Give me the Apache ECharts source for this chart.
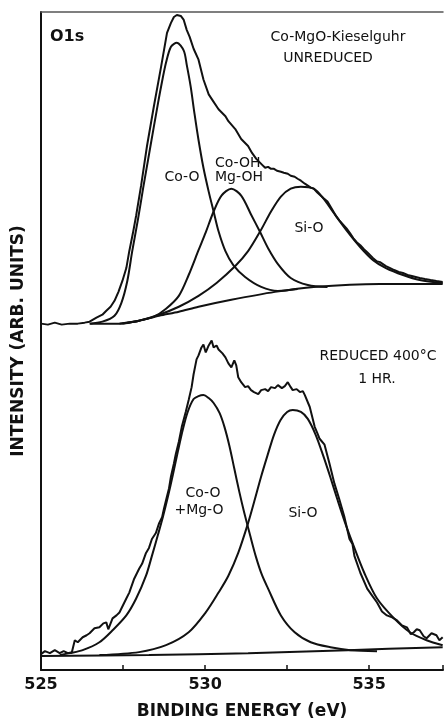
<!DOCTYPE html>
<html>
<head>
<meta charset="utf-8">
<script src="https://cdn.jsdelivr.net/npm/echarts@6/dist/echarts.min.js"></script>
<style>
html,body{margin:0;padding:0;background:#fff;}
#chart{width:446px;height:725px;}
</style>
</head>
<body>
<div id="chart"></div>
<script>
// O1s XPS spectra, Co-MgO-Kieselguhr (arb. units)
// upper spectrum: unreduced
var upperEnvelope = [[525.00,349],[525.21,348],[525.42,350],[525.63,348],[525.88,349],[526.12,349],[526.33,350],[526.48,351],[526.69,355],[526.87,358],[526.99,362],[527.12,366],[527.24,372],[527.36,381],[527.48,392],[527.60,405],[527.69,422],[527.80,440],[527.90,458],[528.05,488],[528.23,528],[528.44,568],[528.66,608],[528.84,642],[528.96,652],[529.05,658],[529.14,660],[529.20,662],[529.26,659],[529.35,655],[529.44,645],[529.53,638],[529.65,626],[529.80,615],[529.95,595],[530.11,580],[530.23,574],[530.41,565],[530.62,558],[530.71,553],[530.92,545],[531.10,535],[531.31,528],[531.43,521],[531.56,515],[531.65,512],[531.74,509],[531.83,506],[531.92,507],[532.01,505],[532.10,505],[532.19,503],[532.31,502],[532.40,501],[532.52,500],[532.61,498],[532.73,497],[532.82,495],[532.92,493],[533.04,490],[533.13,488],[533.22,486],[533.31,485],[533.42,481],[533.52,478],[533.62,475],[533.73,472],[533.82,467],[533.91,462],[534.00,457],[534.09,453],[534.20,449],[534.31,445],[534.42,440],[534.52,435],[534.62,431],[534.73,428],[534.84,424],[534.94,421],[535.03,418],[535.12,415],[535.22,412],[535.33,411],[535.42,409],[535.51,407],[535.64,405],[535.76,403],[535.90,401],[536.03,400],[536.17,398],[536.30,397],[536.42,396],[536.54,395],[536.70,394],[536.87,393],[537.05,392],[537.24,391]];
var upperCoO = [[526.48,349],[526.87,351],[527.24,357],[527.45,370],[527.63,392],[527.78,422],[527.96,455],[528.11,485],[528.32,525],[528.57,572],[528.66,588],[528.81,612],[528.96,628],[529.14,632],[529.35,624],[529.44,610],[529.56,588],[529.68,560],[529.80,534],[529.95,506],[530.11,482],[530.26,462],[530.41,442],[530.62,422],[530.86,408],[531.22,396],[531.71,386],[532.22,382],[532.82,384]];
var upperCoOH = [[527.39,349],[527.99,352],[528.44,356],[528.81,364],[529.20,377],[529.50,398],[529.80,423],[530.02,441],[530.26,462],[530.50,478],[530.80,485],[531.10,478],[531.40,459],[531.68,441],[531.92,425],[532.22,409],[532.61,395],[533.13,388],[533.73,386]];
var upperSiO = [[527.48,349],[527.99,352],[528.60,358],[529.20,366],[529.80,377],[530.35,390],[530.92,407],[531.31,422],[531.68,442],[532.01,462],[532.31,477],[532.61,485],[532.92,487],[533.31,485],[533.61,475],[533.91,461],[534.31,443],[534.73,426],[535.12,413],[535.51,405],[536.03,398],[536.54,393],[537.24,390]];
var upperBackground = [[526.50,349],[527.39,349],[527.99,352],[528.60,357],[529.20,361],[529.80,366],[530.80,373],[532.13,381],[533.31,386],[535.33,389],[537.24,389]];

// lower spectrum: reduced 400 C, 1 hr
var lowerEnvelope = [[525.00,16],[525.12,19],[525.27,17],[525.42,20],[525.57,17],[525.69,19],[525.82,17],[525.94,18],[526.03,30],[526.12,28],[526.27,33],[526.39,35],[526.48,37],[526.63,42],[526.78,43],[526.90,47],[526.99,48],[527.05,41],[527.18,52],[527.30,55],[527.39,58],[527.51,66],[527.60,72],[527.69,78],[527.84,92],[527.99,102],[528.08,107],[528.20,118],[528.29,123],[528.38,132],[528.50,138],[528.60,148],[528.69,154],[528.75,163],[528.84,175],[528.90,183],[528.96,195],[529.05,208],[529.11,218],[529.20,230],[529.29,245],[529.41,260],[529.50,272],[529.59,285],[529.65,298],[529.74,313],[529.80,317],[529.89,325],[529.95,328],[530.02,320],[530.11,327],[530.20,332],[530.26,325],[530.35,327],[530.41,323],[530.53,319],[530.62,315],[530.71,309],[530.80,305],[530.89,312],[530.95,307],[531.01,295],[531.10,290],[531.22,285],[531.31,286],[531.40,282],[531.49,280],[531.62,278],[531.71,282],[531.83,283],[531.92,281],[532.01,285],[532.13,284],[532.22,287],[532.34,284],[532.43,286],[532.52,290],[532.61,285],[532.67,282],[532.79,283],[532.89,280],[532.98,281],[533.04,277],[533.19,265],[533.34,245],[533.43,238],[533.49,233],[533.64,227],[533.79,208],[533.94,188],[534.09,172],[534.24,155],[534.40,132],[534.49,127],[534.55,115],[534.73,98],[534.94,82],[535.09,75],[535.24,68],[535.39,59],[535.54,55],[535.70,53],[535.85,50],[536.00,45],[536.15,43],[536.27,36],[536.36,38],[536.45,41],[536.54,40],[536.66,34],[536.75,32],[536.90,37],[537.05,35],[537.14,30],[537.24,33]];
var lowerCoOMgO = [[525.57,15],[525.88,17],[526.27,20],[526.78,28],[527.18,40],[527.60,55],[527.90,72],[528.20,95],[528.38,115],[528.57,137],[528.72,155],[528.87,175],[529.02,197],[529.17,220],[529.32,242],[529.47,260],[529.65,273],[529.80,276],[529.95,277],[530.11,274],[530.26,269],[530.44,259],[530.59,245],[530.74,226],[530.89,203],[531.04,180],[531.19,159],[531.37,136],[531.55,114],[531.73,96],[531.92,82],[532.31,55],[532.73,38],[533.22,28],[533.82,23],[534.43,20],[535.24,19]];
var lowerSiO = [[526.78,15],[527.99,18],[528.81,25],[529.50,38],[530.02,58],[530.41,78],[530.71,95],[531.01,118],[531.31,148],[531.50,170],[531.70,194],[531.90,216],[532.10,237],[532.30,252],[532.50,260],[532.67,262],[532.92,260],[533.13,253],[533.37,237],[533.61,215],[533.82,194],[534.03,172],[534.27,148],[534.55,123],[534.85,98],[535.24,72],[535.76,52],[536.24,38],[536.75,30],[537.24,25]];
var lowerBackground = [[525.00,14],[528.29,15],[531.31,17],[534.34,20],[537.24,23]];

var xMin = 525, xMax = 537.25, xStep = 2.5;

var myChart = echarts.init(document.getElementById('chart'));

function curve(data, smooth) {
	return {
		type: 'line',
		data: data,
		showSymbol: false,
		smooth: smooth,
		silent: true,
		lineStyle: { color: '#111', width: 2 }
	};
}

function note(text, x, y, align) {
	return {
		type: 'text',
		x: x,
		y: y,
		style: {
			text: text,
			fill: '#111',
			font: '14px "DejaVu Sans"',
			align: align || 'center',
			verticalAlign: 'middle'
		}
	};
}

var option = {
	backgroundColor: '#fff',
	animation: false,
	grid: { left: 41, right: 0, top: 12, bottom: 50 },
	xAxis: [
		{
			type: 'value',
			min: xMin,
			max: xMax,
			interval: xStep,
			name: 'BINDING ENERGY (eV)',
			nameLocation: 'middle',
			nameGap: 33,
			nameTextStyle: { color: '#111', fontFamily: 'DejaVu Sans', fontWeight: 'bold', fontSize: 17 },
			axisLine: { lineStyle: { color: '#111', width: 2 } },
			axisTick: { inside: true, length: 5, lineStyle: { color: '#111', width: 1.5 } },
			axisLabel: {
				margin: 7,
				color: '#111',
				fontFamily: 'DejaVu Sans',
				fontWeight: 'bold',
				fontSize: 16,
				formatter: function(v) { return v % 5 === 0 ? String(v) : ''; }
			},
			splitLine: { show: false }
		},
		{
			// top frame line
			type: 'value',
			position: 'top',
			min: xMin,
			max: xMax,
			axisLine: { lineStyle: { color: '#555', width: 1.5 } },
			axisTick: { show: false },
			axisLabel: { show: false },
			splitLine: { show: false }
		}
	],
	yAxis: {
		type: 'value',
		min: 0,
		max: 663,
		name: 'INTENSITY (ARB. UNITS)',
		nameLocation: 'middle',
		nameGap: 14,
		nameTextStyle: { color: '#111', fontFamily: 'DejaVu Sans', fontWeight: 'bold', fontSize: 17 },
		axisLine: { show: true, lineStyle: { color: '#111', width: 2 } },
		axisTick: { show: false },
		axisLabel: { show: false },
		splitLine: { show: false }
	},
	series: [
		curve(upperEnvelope, false),
		curve(upperCoO, 0.3),
		curve(upperCoOH, 0.3),
		curve(upperSiO, 0.3),
		curve(upperBackground, 0.3),
		curve(lowerEnvelope, false),
		curve(lowerCoOMgO, 0.3),
		curve(lowerSiO, 0.3),
		curve(lowerBackground, 0.3)
	],
	graphic: [
		{
			type: 'text', x: 50, y: 37,
			style: { text: 'O1s', fill: '#111', font: 'bold 16px "DejaVu Sans"', align: 'left', verticalAlign: 'middle' }
		},
		note('Co-MgO-Kieselguhr', 338, 37),
		note('UNREDUCED', 328, 58),
		note('Co-O', 182, 177),
		note('Co-OH', 215, 163, 'left'),
		note('Mg-OH', 215, 177, 'left'),
		note('Si-O', 309, 228),
		note('REDUCED 400°C', 378, 356),
		note('1 HR.', 377, 379),
		note('Co-O', 203, 493),
		note('+Mg-O', 199, 510),
		note('Si-O', 303, 513)
	]
};

myChart.setOption(option);
</script>
</body>
</html>
